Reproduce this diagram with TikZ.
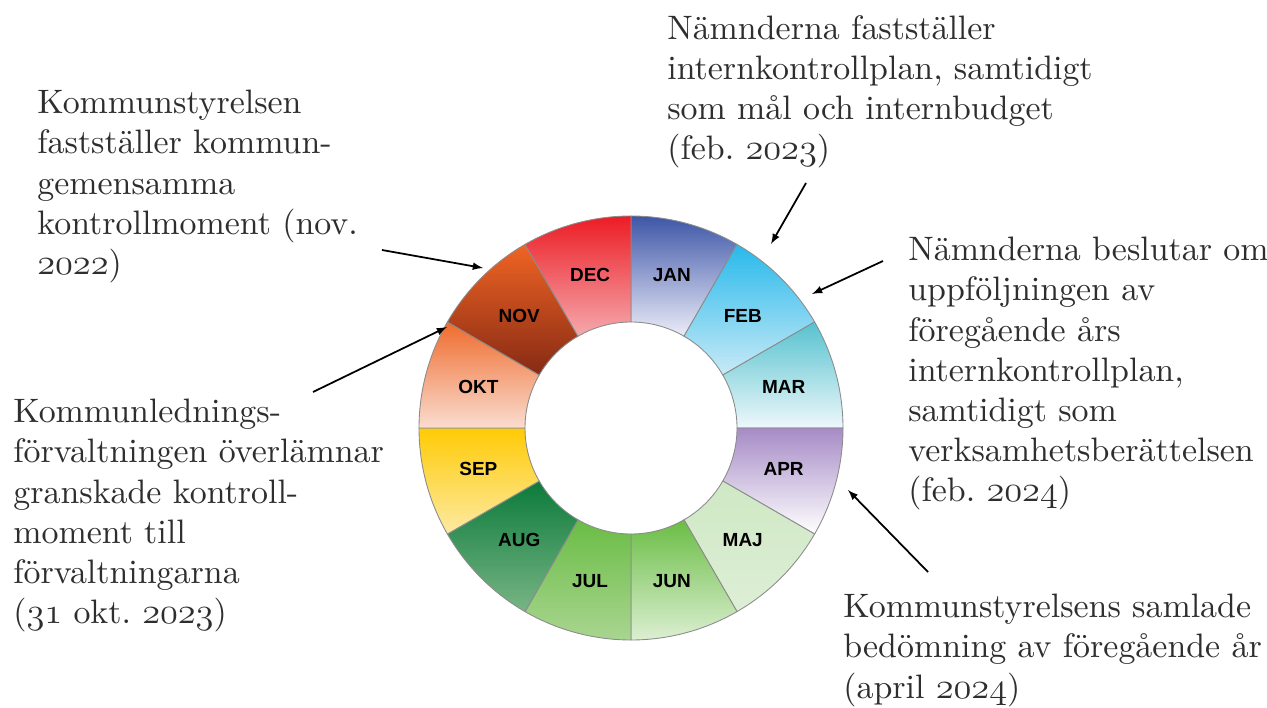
\documentclass[tikz,border=0pt]{standalone}
\usepackage{fontspec}
\usepackage{xcolor}
\newfontfamily\monthfont{Liberation Sans}
\newfontfamily\notefont{lmroman10-regular.otf}
\frenchspacing

% old style figures from the math italic font
\newcommand\oldnum[1]{{\fontencoding{OML}\fontfamily{cmm}\fontseries{m}\fontshape{it}\selectfont #1}}

\definecolor{janTop}{HTML}{3E56A8}\definecolor{janBot}{HTML}{ECEDF8}
\definecolor{febTop}{HTML}{27B9EA}\definecolor{febBot}{HTML}{C9EAF7}
\definecolor{marTop}{HTML}{56C2CF}\definecolor{marBot}{HTML}{EEF8FB}
\definecolor{aprTop}{HTML}{A68BC6}\definecolor{aprBot}{HTML}{FFFFFF}
\definecolor{majTop}{HTML}{CFE8C4}\definecolor{majBot}{HTML}{DDEFD6}
\definecolor{junTop}{HTML}{6ABD45}\definecolor{junBot}{HTML}{DCEFD2}
\definecolor{julTop}{HTML}{6ABD45}\definecolor{julBot}{HTML}{A9D590}
\definecolor{augTop}{HTML}{0B7A3A}\definecolor{augBot}{HTML}{78B585}
\definecolor{sepTop}{HTML}{FFCB05}\definecolor{sepBot}{HTML}{FDEAA3}
\definecolor{oktTop}{HTML}{EF6B2D}\definecolor{oktBot}{HTML}{FADDD0}
\definecolor{novTop}{HTML}{F06424}\definecolor{novBot}{HTML}{862A14}
\definecolor{decTop}{HTML}{EC1C24}\definecolor{decBot}{HTML}{F5A9AD}
\definecolor{wheelLine}{HTML}{8C8C8C}
\definecolor{noteText}{HTML}{2E2E2E}

\tikzset{
  month/.style={font=\monthfont\bfseries\fontsize{10.8}{12}\selectfont, text=black},
  note/.style={align=left, anchor=north west, inner sep=0pt, text=noteText,
               font=\notefont\fontsize{19.3}{22.8}\selectfont\frenchspacing},
  pointer/.style={-latex, line width=1pt, black},
}

\begin{document}
\begin{tikzpicture}[x=0.02cm,y=0.02cm]
\useasboundingbox (0,0) rectangle (1267,707);

% year wheel
\coordinate (wheel) at (631,279);
\begin{scope}[shift={(wheel)}]
\foreach \lab/\ctop/\cbot [count=\i from 0] in {JAN/janTop/janBot, FEB/febTop/febBot,
    MAR/marTop/marBot, APR/aprTop/aprBot, MAJ/majTop/majBot, JUN/junTop/junBot,
    JUL/julTop/julBot, AUG/augTop/augBot, SEP/sepTop/sepBot, OKT/oktTop/oktBot,
    NOV/novTop/novBot, DEC/decTop/decBot}{
  \pgfmathsetmacro\aone{90-30*\i}
  \pgfmathsetmacro\atwo{60-30*\i}
  \pgfmathsetmacro\amid{75-30*\i}
  \shadedraw[top color=\ctop, bottom color=\cbot, draw=wheelLine, line width=0.5pt]
    (\aone:212) arc[start angle=\aone, end angle=\atwo, radius=212]
    -- (\atwo:106) arc[start angle=\atwo, end angle=\aone, radius=106] -- cycle;
  \node[month] (m\lab) at (\amid:158) {\lab};
}
\end{scope}

% notes
\node[note] (noteNov) at (37,617) {Kommunstyrelsen\\fastställer kommun-\\gemensamma\\kontrollmoment (nov.\\\oldnum{2022})};
\node[note] (noteOkt) at (13,308) {Kommunlednings-\\förvaltningen överlämnar\\granskade kontroll-\\moment till\\förvaltningarna\\(\oldnum{31} okt. \oldnum{2023})};
\node[note] (noteFeb) at (667,692) {Nämnderna fastställer\\internkontrollplan, samtidigt\\som mål och internbudget\\(feb. \oldnum{2023})};
\node[note] (noteUpp) at (908,470) {Nämnderna beslutar om\\uppföljningen av\\föregående års\\internkontrollplan,\\samtidigt som\\verksamhetsberättelsen\\(feb. \oldnum{2024})};
\node[note] (noteApr) at (843,113) {Kommunstyrelsens samlade\\bedömning av föregående år\\(april \oldnum{2024})};

% arrows
\coordinate (tailNov) at (382,457); \coordinate (tipNov) at (483,439);
\coordinate (tailOkt) at (313,315); \coordinate (tipOkt) at (447,380);
\coordinate (tailFeb) at (806,524); \coordinate (tipFeb) at (771,463);
\coordinate (tailUpp) at (883,446); \coordinate (tipUpp) at (812,413);
\coordinate (tailApr) at (928,135); \coordinate (tipApr) at (848,217);
\draw[pointer] (tailNov) -- (tipNov);
\draw[pointer] (tailOkt) -- (tipOkt);
\draw[pointer] (tailFeb) -- (tipFeb);
\draw[pointer] (tailUpp) -- (tipUpp);
\draw[pointer] (tailApr) -- (tipApr);

\end{tikzpicture}
\end{document}
